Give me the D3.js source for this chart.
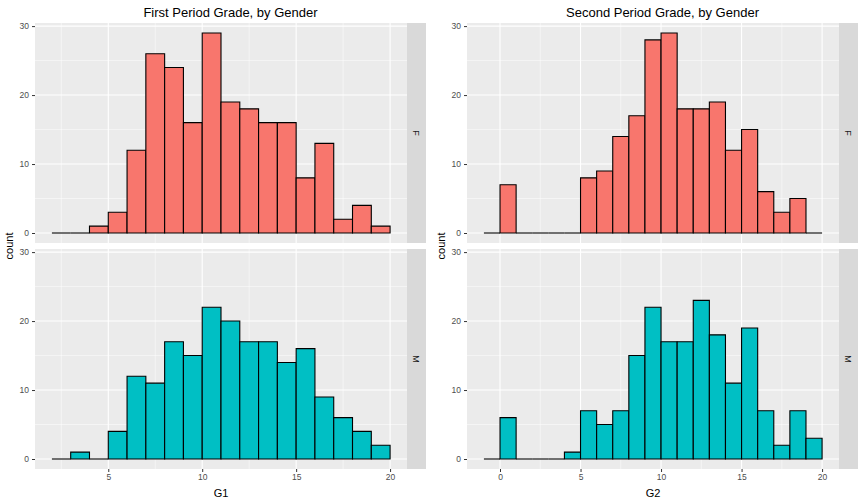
<!DOCTYPE html>
<html><head><meta charset="utf-8">
<script src="https://cdn.jsdelivr.net/npm/d3@7"></script>
<style>body{margin:0;background:#fff}text{font-family:"Liberation Sans",Arial,sans-serif}</style>
</head><body><svg id="chart" width="864" height="504"></svg>
<script>
// bin counts, width 1
var g1Start = 2;
var g1F = [0,0,1,3,12,26,24,16,29,19,18,16,16,8,13,2,4,1];
var g1M = [0,1,0,4,12,11,17,15,22,20,17,17,14,16,9,6,4,2];
var g2Start = -1;
var g2F = [0,7,0,0,0,0,8,9,14,17,28,29,18,18,19,12,15,6,3,5,0];
var g2M = [0,6,0,0,0,1,7,5,7,15,22,17,17,23,18,11,19,7,2,7,3];
var genders = ["F","M"];
var colors = {F:"#F8766D", M:"#00BFC4"};
var yTicks = [0,10,20,30];

var svg = d3.select("#chart");

function drawHistogram(ox, title, xlabel, start, series, xTicks) {
	var panelW = 372, stripW = 19;
	var tops = [23, 249], panelH = 220;
	var n = series.F.length;
	var lo = start, hi = start + n, pad = (hi - lo) * 0.05;
	var x = d3.scaleLinear().domain([lo - pad, hi + pad]).range([ox, ox + panelW]);
	var y0 = d3.scaleLinear().domain([-1.45, 30.45]).range([panelH, 0]);
	var minorX = xTicks.slice(0, -1).map(function(t, i) { return (t + xTicks[i+1]) / 2; });
	minorX.push(xTicks[0] - 2.5);
	minorX = minorX.filter(function(v) { return v > lo - pad && v < hi + pad; });

	genders.forEach(function(gd, gi) {
		var top = tops[gi];
		var g = svg.append("g").attr("transform", "translate(0," + top + ")");
		g.append("rect").attr("x", ox).attr("y", 0).attr("width", panelW).attr("height", panelH).attr("fill", "#EBEBEB");
		// grids
		g.selectAll(".mx").data(minorX).enter().append("line")
			.attr("x1", x).attr("x2", x).attr("y1", 0).attr("y2", panelH).attr("stroke", "#fff").attr("stroke-width", 0.5);
		g.selectAll(".my").data([5,15,25]).enter().append("line")
			.attr("x1", ox).attr("x2", ox + panelW).attr("y1", y0).attr("y2", y0).attr("stroke", "#fff").attr("stroke-width", 0.5);
		g.selectAll(".gx").data(xTicks).enter().append("line")
			.attr("x1", x).attr("x2", x).attr("y1", 0).attr("y2", panelH).attr("stroke", "#fff").attr("stroke-width", 1.1);
		g.selectAll(".gy").data(yTicks).enter().append("line")
			.attr("x1", ox).attr("x2", ox + panelW).attr("y1", y0).attr("y2", y0).attr("stroke", "#fff").attr("stroke-width", 1.1);
		// bars
		g.selectAll(".bar").data(series[gd]).enter().append("path")
			.attr("d", function(d, i) {
				var xa = x(start + i), xb = x(start + i + 1), ya = y0(0), yb = y0(d);
				return d > 0 ? "M" + xa + "," + ya + "V" + yb + "H" + xb + "V" + ya + "Z" : "M" + xa + "," + ya + "H" + xb;
			})
			.attr("fill", colors[gd]).attr("stroke", "#000").attr("stroke-width", 1.1);
		// y axis
		var ya = g.append("g").attr("transform", "translate(" + ox + ",0)")
			.call(d3.axisLeft(y0).tickValues(yTicks).tickSize(3).tickPadding(3));
		ya.select(".domain").remove();
		ya.selectAll("line").attr("stroke", "#333");
		ya.selectAll("text").attr("fill", "#4D4D4D").style("font-size", "8.5px");
		// strip
		g.append("rect").attr("x", ox + panelW).attr("y", 0).attr("width", stripW).attr("height", panelH).attr("fill", "#D9D9D9");
		g.append("text").attr("transform", "translate(" + (ox + panelW + stripW / 2) + "," + panelH / 2 + ") rotate(90)")
			.attr("text-anchor", "middle").attr("dy", "0.35em").style("font-size", "9px").attr("fill", "#1A1A1A").text(gd);
	});
	var xa = svg.append("g").attr("transform", "translate(0," + (tops[1] + panelH) + ")")
		.call(d3.axisBottom(x).tickValues(xTicks).tickSize(3).tickPadding(2));
	xa.select(".domain").remove();
	xa.selectAll("line").attr("stroke", "#333");
	xa.selectAll("text").attr("fill", "#4D4D4D").style("font-size", "8.5px");
	svg.append("text").attr("x", ox + panelW / 2).attr("y", 497).attr("text-anchor", "middle")
		.style("font-size", "11px").attr("fill", "#000").text(xlabel);
	svg.append("text").attr("x", ox + (panelW + stripW) / 2).attr("y", 17).attr("text-anchor", "middle")
		.style("font-size", "13px").attr("fill", "#000").text(title);
	svg.append("text").attr("transform", "translate(" + (ox - 22) + ",246) rotate(-90)").attr("text-anchor", "middle")
		.style("font-size", "11px").attr("fill", "#000").text("count");
}

drawHistogram(35, "First Period Grade, by Gender", "G1", g1Start, {F: g1F, M: g1M}, [5,10,15,20]);
drawHistogram(467, "Second Period Grade, by Gender", "G2", g2Start, {F: g2F, M: g2M}, [0,5,10,15,20]);
</script></body></html>
